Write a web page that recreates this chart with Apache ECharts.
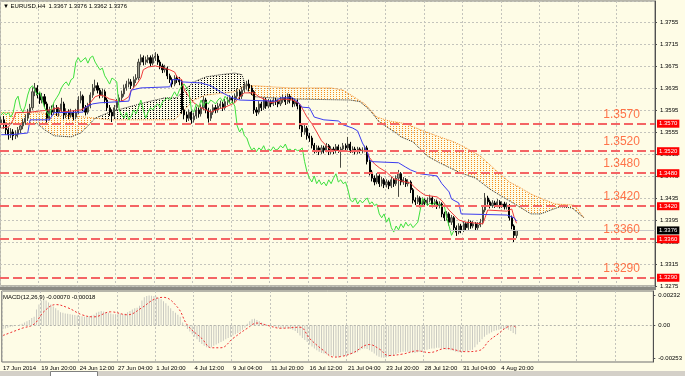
<!DOCTYPE html>
<html><head><meta charset="utf-8">
<script src="https://cdn.jsdelivr.net/npm/echarts@6/dist/echarts.min.js"></script>
<style>html,body{margin:0;padding:0;background:#fefce6}#c{width:685px;height:376px}</style>
</head><body><div id="c"></div>
<script>
// ---------- data ----------
const tickLabels = ['17 Jun 2014','19 Jun 20:00','24 Jun 12:00','27 Jun 04:00','1 Jul 20:00','4 Jul 12:00','9 Jul 04:00','11 Jul 20:00','16 Jul 12:00','21 Jul 04:00','23 Jul 20:00','28 Jul 12:00','31 Jul 04:00','4 Aug 20:00'];
const barsPerLabel = 16;
const slotCount = 272;

const opens = [1.3570,1.3577,1.3568,1.3559,1.3550,1.3555,1.3548,1.3551,1.3559,1.3566,
1.3573,1.3580,1.3591,1.3599,1.3628,1.3635,1.3622,1.3613,1.3619,1.3606,
1.3580,1.3595,1.3591,1.3599,1.3590,1.3595,1.3606,1.3586,1.3591,1.3586,
1.3590,1.3582,1.3591,1.3613,1.3620,1.3599,1.3591,1.3602,1.3622,1.3635,
1.3639,1.3631,1.3622,1.3628,1.3613,1.3599,1.3591,1.3584,1.3599,1.3610,
1.3617,1.3624,1.3635,1.3642,1.3646,1.3639,1.3650,1.3653,1.3682,1.3690,
1.3682,1.3686,1.3690,1.3680,1.3690,1.3693,1.3682,1.3675,1.3668,1.3671,
1.3657,1.3650,1.3642,1.3653,1.3650,1.3646,1.3595,1.3586,1.3580,1.3591,
1.3577,1.3584,1.3595,1.3588,1.3599,1.3613,1.3595,1.3580,1.3591,1.3599,
1.3595,1.3602,1.3606,1.3599,1.3610,1.3613,1.3617,1.3613,1.3620,1.3628,
1.3620,1.3631,1.3639,1.3642,1.3635,1.3628,1.3595,1.3591,1.3606,1.3599,
1.3613,1.3602,1.3610,1.3606,1.3613,1.3610,1.3606,1.3613,1.3617,1.3610,
1.3620,1.3613,1.3606,1.3610,1.3602,1.3566,1.3555,1.3562,1.3548,1.3544,
1.3531,1.3522,1.3526,1.3519,1.3526,1.3522,1.3530,1.3519,1.3524,1.3521,
1.3528,1.3522,1.3524,1.3530,1.3526,1.3533,1.3522,1.3524,1.3519,1.3524,
1.3521,1.3522,1.3526,1.3501,1.3482,1.3471,1.3464,1.3475,1.3461,1.3468,
1.3459,1.3464,1.3457,1.3468,1.3461,1.3471,1.3479,1.3464,1.3468,1.3461,
1.3464,1.3450,1.3431,1.3428,1.3435,1.3424,1.3431,1.3426,1.3431,1.3435,
1.3424,1.3428,1.3421,1.3424,1.3406,1.3399,1.3406,1.3391,1.3399,1.3381,
1.3373,1.3384,1.3377,1.3388,1.3381,1.3391,1.3384,1.3388,1.3381,1.3386,
1.3391,1.3413,1.3435,1.3428,1.3421,1.3426,1.3422,1.3428,1.3421,1.3424,
1.3419,1.3421,1.3399,1.3384,1.3367];
const closes = [1.3577,1.3568,1.3559,1.3550,1.3555,1.3548,1.3551,1.3559,1.3566,1.3573,
1.3580,1.3591,1.3599,1.3628,1.3635,1.3622,1.3613,1.3619,1.3606,1.3580,
1.3595,1.3591,1.3599,1.3590,1.3595,1.3606,1.3586,1.3591,1.3586,1.3590,
1.3582,1.3591,1.3613,1.3620,1.3599,1.3591,1.3602,1.3622,1.3635,1.3639,
1.3631,1.3622,1.3628,1.3613,1.3599,1.3591,1.3584,1.3599,1.3610,1.3617,
1.3624,1.3635,1.3642,1.3646,1.3639,1.3650,1.3653,1.3682,1.3690,1.3682,
1.3686,1.3690,1.3680,1.3690,1.3693,1.3682,1.3675,1.3668,1.3671,1.3657,
1.3650,1.3642,1.3653,1.3650,1.3646,1.3595,1.3586,1.3580,1.3591,1.3577,
1.3584,1.3595,1.3588,1.3599,1.3613,1.3595,1.3580,1.3591,1.3599,1.3595,
1.3602,1.3606,1.3599,1.3610,1.3613,1.3617,1.3613,1.3620,1.3628,1.3620,
1.3631,1.3639,1.3642,1.3635,1.3628,1.3595,1.3591,1.3606,1.3599,1.3613,
1.3602,1.3610,1.3606,1.3613,1.3610,1.3606,1.3613,1.3617,1.3610,1.3620,
1.3613,1.3606,1.3610,1.3602,1.3566,1.3555,1.3562,1.3548,1.3544,1.3531,
1.3522,1.3526,1.3519,1.3526,1.3522,1.3530,1.3519,1.3524,1.3521,1.3528,
1.3522,1.3524,1.3530,1.3526,1.3533,1.3522,1.3524,1.3519,1.3524,1.3521,
1.3522,1.3526,1.3501,1.3482,1.3471,1.3464,1.3475,1.3461,1.3468,1.3459,
1.3464,1.3457,1.3468,1.3461,1.3471,1.3479,1.3464,1.3468,1.3461,1.3464,
1.3450,1.3431,1.3428,1.3435,1.3424,1.3431,1.3426,1.3431,1.3435,1.3424,
1.3428,1.3421,1.3424,1.3406,1.3399,1.3406,1.3391,1.3399,1.3381,1.3373,
1.3384,1.3377,1.3388,1.3381,1.3391,1.3384,1.3388,1.3381,1.3386,1.3391,
1.3413,1.3435,1.3428,1.3421,1.3426,1.3422,1.3428,1.3421,1.3424,1.3419,
1.3421,1.3399,1.3384,1.3367,1.3376];
const highs = [1.3583,1.3584,1.3572,1.3563,1.3562,1.3560,1.3558,1.3564,1.3571,1.3579,
1.3587,1.3597,1.3606,1.3636,1.3644,1.3640,1.3628,1.3626,1.3624,1.3610,
1.3601,1.3603,1.3606,1.3604,1.3600,1.3617,1.3610,1.3598,1.3596,1.3597,
1.3594,1.3597,1.3620,1.3629,1.3623,1.3604,1.3608,1.3627,1.3642,1.3650,
1.3645,1.3635,1.3634,1.3632,1.3617,1.3604,1.3596,1.3604,1.3615,1.3623,
1.3630,1.3641,1.3648,1.3652,1.3651,1.3656,1.3660,1.3688,1.3696,1.3694,
1.3692,1.3695,1.3694,1.3696,1.3700,1.3697,1.3686,1.3679,1.3677,1.3674,
1.3661,1.3654,1.3658,1.3658,1.3655,1.3650,1.3600,1.3592,1.3596,1.3594,
1.3590,1.3601,1.3600,1.3605,1.3620,1.3617,1.3599,1.3596,1.3605,1.3604,
1.3608,1.3612,1.3610,1.3615,1.3619,1.3622,1.3621,1.3625,1.3634,1.3632,
1.3637,1.3645,1.3648,1.3650,1.3640,1.3631,1.3600,1.3611,1.3610,1.3618,
1.3617,1.3615,1.3614,1.3618,1.3617,1.3614,1.3619,1.3623,1.3621,1.3625,
1.3624,1.3617,1.3615,1.3614,1.3605,1.3570,1.3568,1.3566,1.3553,1.3548,
1.3535,1.3531,1.3530,1.3531,1.3530,1.3535,1.3533,1.3529,1.3528,1.3533,
1.3532,1.3528,1.3535,1.3534,1.3546,1.3537,1.3529,1.3528,1.3528,1.3527,
1.3527,1.3530,1.3530,1.3505,1.3486,1.3476,1.3480,1.3478,1.3473,1.3471,
1.3469,1.3467,1.3473,1.3471,1.3476,1.3486,1.3482,1.3473,1.3471,1.3469,
1.3467,1.3453,1.3436,1.3440,1.3438,1.3436,1.3434,1.3436,1.3441,1.3438,
1.3433,1.3432,1.3429,1.3427,1.3410,1.3411,1.3409,1.3404,1.3402,1.3385,
1.3389,1.3388,1.3393,1.3391,1.3396,1.3394,1.3393,1.3391,1.3391,1.3397,
1.3419,1.3444,1.3439,1.3432,1.3431,1.3430,1.3433,1.3431,1.3429,1.3428,
1.3427,1.3424,1.3403,1.3387,1.3376];
const lows = [1.3562,1.3561,1.3550,1.3541,1.3544,1.3540,1.3542,1.3545,1.3553,1.3560,
1.3568,1.3575,1.3586,1.3595,1.3620,1.3616,1.3606,1.3607,1.3600,1.3572,
1.3576,1.3585,1.3586,1.3584,1.3583,1.3590,1.3578,1.3580,1.3578,1.3581,
1.3576,1.3578,1.3587,1.3607,1.3593,1.3585,1.3587,1.3598,1.3617,1.3629,
1.3625,1.3616,1.3617,1.3607,1.3593,1.3584,1.3573,1.3580,1.3594,1.3604,
1.3611,1.3619,1.3630,1.3636,1.3633,1.3635,1.3644,1.3649,1.3676,1.3676,
1.3677,1.3680,1.3674,1.3676,1.3684,1.3677,1.3669,1.3662,1.3663,1.3651,
1.3644,1.3636,1.3638,1.3644,1.3640,1.3588,1.3578,1.3573,1.3575,1.3570,
1.3572,1.3579,1.3581,1.3583,1.3594,1.3589,1.3572,1.3575,1.3586,1.3589,
1.3590,1.3597,1.3593,1.3595,1.3604,1.3608,1.3607,1.3608,1.3615,1.3614,
1.3615,1.3626,1.3633,1.3629,1.3622,1.3588,1.3584,1.3587,1.3593,1.3595,
1.3597,1.3598,1.3600,1.3602,1.3604,1.3600,1.3602,1.3608,1.3604,1.3606,
1.3607,1.3600,1.3601,1.3596,1.3560,1.3546,1.3550,1.3541,1.3537,1.3525,
1.3516,1.3517,1.3513,1.3515,1.3516,1.3518,1.3513,1.3514,1.3515,1.3516,
1.3517,1.3490,1.3519,1.3520,1.3522,1.3517,1.3517,1.3514,1.3515,1.3516,
1.3516,1.3518,1.3496,1.3476,1.3465,1.3458,1.3460,1.3455,1.3456,1.3453,
1.3454,1.3451,1.3453,1.3455,1.3457,1.3437,1.3458,1.3459,1.3455,1.3456,
1.3444,1.3425,1.3422,1.3424,1.3418,1.3420,1.3420,1.3421,1.3427,1.3418,
1.3419,1.3415,1.3416,1.3400,1.3393,1.3394,1.3385,1.3386,1.3375,1.3366,
1.3369,1.3371,1.3373,1.3376,1.3377,1.3379,1.3380,1.3376,1.3377,1.3382,
1.3387,1.3409,1.3423,1.3416,1.3417,1.3417,1.3418,1.3416,1.3417,1.3414,
1.3414,1.3394,1.3378,1.3355,1.3362];

// Ichimoku lines, [bar index, price] vertices
const tenkan = [[0,1.3562],[3,1.3564],[5,1.3577],[6,1.3590],[12,1.3591],[20,1.3595],[24,1.3599],[25,1.3591],[29,1.3593],[33,1.3595],[35,1.3599],[37,1.3608],[39,1.3619],[41,1.3622],[43,1.3620],[45,1.3615],[47,1.3613],[49,1.3610],[51,1.3613],[53,1.3619],[54,1.3631],[56,1.3640],[58,1.3653],[59,1.3668],[61,1.3673],[64,1.3675],[66,1.3673],[70,1.3668],[72,1.3664],[73,1.3655],[75,1.3650],[76,1.3631],[78,1.3619],[80,1.3608],[83,1.3599],[87,1.3591],[89,1.3595],[93,1.3600],[97,1.3608],[99,1.3619],[101,1.3626],[105,1.3626],[107,1.3619],[110,1.3613],[112,1.3608],[114,1.3610],[117,1.3615],[121,1.3613],[124,1.3606],[126,1.3590],[127,1.3582],[129,1.3570],[131,1.3555],[133,1.3539],[135,1.3530],[137,1.3522],[141,1.3521],[146,1.3519],[149,1.3522],[152,1.3519],[153,1.3508],[155,1.3497],[157,1.3490],[160,1.3482],[163,1.3470],[166,1.3466],[170,1.3462],[172,1.3453],[174,1.3446],[176,1.3440],[181,1.3437],[183,1.3430],[186,1.3413],[188,1.3404],[190,1.3395],[193,1.3391],[200,1.3388],[201,1.3400],[202,1.3413],[210,1.3411],[212,1.3415],[213,1.3400],[214,1.3389]];
const kijun = [[0,1.3550],[4,1.3550],[11,1.3553],[12,1.3577],[20,1.3577],[22,1.3590],[34,1.3591],[35,1.3600],[38,1.3606],[41,1.3608],[53,1.3611],[54,1.3631],[58,1.3635],[70,1.3637],[71,1.3650],[74,1.3650],[75,1.3646],[83,1.3644],[87,1.3639],[91,1.3628],[96,1.3617],[99,1.3613],[114,1.3611],[116,1.3617],[121,1.3617],[123,1.3610],[125,1.3600],[128,1.3599],[130,1.3582],[134,1.3577],[140,1.3575],[142,1.3568],[146,1.3562],[148,1.3557],[150,1.3535],[152,1.3519],[153,1.3504],[154,1.3501],[165,1.3499],[168,1.3491],[170,1.3486],[174,1.3479],[181,1.3475],[183,1.3461],[186,1.3446],[187,1.3433],[190,1.3426],[191,1.3406],[210,1.3404],[213,1.3399],[214,1.3393]];
const senkouA = [[0,1.3590],[16,1.3590],[24,1.3586],[35,1.3582],[45,1.3577],[72,1.3577],[76,1.3595],[80,1.3613],[85,1.3622],[97,1.3628],[101,1.3639],[105,1.3639],[120,1.3635],[137,1.3635],[142,1.3631],[146,1.3620],[151,1.3606],[156,1.3582],[161,1.3575],[168,1.3570],[174,1.3559],[182,1.3546],[188,1.3537],[193,1.3526],[199,1.3511],[203,1.3495],[207,1.3479],[211,1.3464],[215,1.3455],[220,1.3442],[226,1.3431],[230,1.3424],[238,1.3422],[242,1.3399]];
const senkouB = [[0,1.3570],[15,1.3570],[18,1.3559],[22,1.3548],[29,1.3546],[33,1.3553],[36,1.3566],[39,1.3580],[45,1.3591],[56,1.3604],[62,1.3611],[68,1.3617],[73,1.3617],[76,1.3631],[80,1.3646],[85,1.3655],[91,1.3659],[97,1.3662],[100,1.3659],[102,1.3631],[105,1.3619],[120,1.3615],[145,1.3613],[149,1.3610],[153,1.3595],[157,1.3573],[164,1.3553],[166,1.3546],[171,1.3537],[177,1.3511],[182,1.3499],[190,1.3482],[197,1.3471],[203,1.3451],[209,1.3435],[214,1.3422],[220,1.3406],[224,1.3406],[227,1.3411],[232,1.3419],[237,1.3417],[242,1.3399]];
const chikouShift = 26;

const levels = [1.3570, 1.3520, 1.3480, 1.3420, 1.3360, 1.3290];
const lastPrice = 1.3376;
const priceMin = 1.3275, priceMax = 1.3793, priceStep = 0.004;

const macdMain = [-0.00030,-0.00025,-0.00020,-0.00015,-0.00010,-0.00005,0.00000,0.00005,0.00010,0.00020,
0.00030,0.00040,0.00055,0.00064,
0.00120,0.00160,0.00190,0.00199,0.00190,0.00175,
0.00159,0.00145,0.00130,0.00115,
0.00100,0.00095,0.00090,0.00088,0.00085,0.00080,0.00078,0.00075,
0.00070,0.00068,0.00064,0.00066,0.00070,0.00075,0.00080,
0.00095,0.00103,0.00110,0.00105,0.00100,0.00095,0.00090,0.00085,
0.00085,0.00090,0.00088,0.00085,0.00090,0.00100,
0.00110,0.00120,0.00130,0.00135,0.00150,
0.00190,0.00215,0.00225,0.00230,0.00228,0.00225,0.00220,
0.00210,0.00200,0.00185,0.00170,
0.00150,0.00130,0.00110,0.00095,0.00080,0.00065,
0.00020,-0.00010,-0.00030,
-0.00050,-0.00070,-0.00090,-0.00110,-0.00130,-0.00145,-0.00160,-0.00170,-0.00175,-0.00170,
-0.00160,-0.00150,-0.00140,-0.00130,-0.00120,-0.00110,-0.00100,
-0.00090,-0.00080,-0.00070,-0.00060,-0.00050,-0.00035,-0.00020,
0.00010,0.00030,0.00045,0.00050,0.00040,0.00030,
0.00020,0.00010,0.00005,0.00000,-0.00005,-0.00010,-0.00015,-0.00020,
-0.00025,-0.00025,-0.00020,-0.00025,-0.00030,-0.00035,-0.00045,
-0.00060,-0.00080,-0.00100,-0.00115,-0.00130,
-0.00150,-0.00165,-0.00180,-0.00195,-0.00205,
-0.00215,-0.00220,-0.00225,-0.00230,-0.00235,-0.00240,-0.00245,-0.00250,
-0.00245,-0.00240,-0.00235,-0.00230,-0.00225,-0.00220,-0.00215,-0.00210,
-0.00195,-0.00185,-0.00180,-0.00185,-0.00195,-0.00205,
-0.00220,-0.00235,-0.00245,-0.00250,-0.00252,-0.00250,-0.00245,
-0.00240,-0.00235,-0.00225,-0.00215,-0.00210,-0.00205,-0.00205,
-0.00205,-0.00210,-0.00215,-0.00215,-0.00210,-0.00205,-0.00200,-0.00195,-0.00190,
-0.00185,-0.00180,-0.00180,-0.00175,-0.00175,-0.00180,-0.00185,-0.00190,-0.00190,-0.00195,
-0.00200,-0.00205,-0.00210,-0.00210,-0.00205,-0.00200,-0.00200,-0.00195,-0.00190,
-0.00170,-0.00150,-0.00130,-0.00110,-0.00090,
-0.00075,-0.00065,-0.00055,-0.00045,-0.00040,-0.00035,
-0.00030,-0.00030,-0.00030,-0.00035,
-0.00045,-0.00060,-0.00070];
const macdSignal = [[0,-0.00080],[8,-0.00024],[13,0.00008],[17,0.00103],[22,0.00159],[27,0.00135],[33,0.00080],[38,0.00064],[45,0.00103],[52,0.00080],[58,0.00135],[63,0.00199],[67,0.00215],[73,0.00135],[77,0.00000],[83,-0.00103],[87,-0.00175],[91,-0.00175],[96,-0.00103],[102,-0.00024],[106,0.00016],[110,0.00000],[116,-0.00024],[124,-0.00016],[128,-0.00103],[134,-0.00199],[138,-0.00247],[141,-0.00243],[146,-0.00215],[153,-0.00150],[157,-0.00183],[161,-0.00235],[167,-0.00223],[173,-0.00199],[178,-0.00212],[185,-0.00180],[193,-0.00205],[199,-0.00195],[203,-0.00119],[207,-0.00064],[210,-0.00020],[213,-0.00002],[214,-0.00018]];
const macdMin = -0.00285, macdMax = 0.00264;
const macdTicks = [0.00232, 0, -0.00253];
const headerText = '\u25BC EURUSD,H4  1.3367 1.3376 1.3362 1.3376';
const macdTitle = 'MACD(12,26,9) -0.00070 -0.00018';

// ---------- helpers ----------
const BG = '#fefce6';
const FONT = 'Liberation Sans';
function dots(color, w, h) {
  const c = document.createElement('canvas'); c.width = w; c.height = h;
  const g = c.getContext('2d'); g.fillStyle = color; g.fillRect(0, 0, 1, 1); return c;
}
const orangeDots = dots('#f5901e', 3, 2);
const blackDots = dots('#000000', 3, 2);
function lerp(pts, x) {
  if (x <= pts[0][0]) return pts[0][1];
  for (let k = 1; k < pts.length; k++) {
    if (x <= pts[k][0]) { const a = pts[k-1], b = pts[k]; return a[1] + (b[1]-a[1]) * (x-a[0]) / (b[0]-a[0]); }
  }
  return pts[pts.length-1][1];
}
const categories = Array.from({length: slotCount}, (_, i) => String(i));
const candleData = closes.map((c, i) => [opens[i], c, lows[i], highs[i]]);
const chikou = closes.slice(chikouShift).map((c, i) => [i, c]);
const showEvery = (idx) => idx % barsPerLabel === 0;

const chart = echarts.init(document.getElementById('c'), null, {renderer: 'canvas'});
const gridLine = {show: true, interval: (i) => showEvery(i), lineStyle: {color: '#c4c4bc', type: [2, 2], width: 1}};

chart.setOption({
  animation: false,
  backgroundColor: BG,
  textStyle: {fontFamily: FONT},
  grid: [
    {left: 0, width: 655, top: 1, height: 285, show: true, backgroundColor: BG, borderColor: '#6e6e6e', borderWidth: 1},
    {left: 0, width: 655, top: 291, height: 71, show: true, backgroundColor: BG, borderColor: '#6e6e6e', borderWidth: 1}
  ],
  xAxis: [
    {type: 'category', gridIndex: 0, data: categories, boundaryGap: true,
     axisLine: {show: false}, axisTick: {show: false}, axisLabel: {show: false}, splitLine: gridLine},
    {type: 'category', gridIndex: 1, data: categories, boundaryGap: true,
     axisLine: {show: false}, axisTick: {show: false}, splitLine: gridLine,
     axisLabel: {show: true, interval: (i) => showEvery(i) && i / barsPerLabel < tickLabels.length,
       formatter: (v, i) => tickLabels[Math.round(Number(v) / barsPerLabel)] || '',
       align: 'left', fontSize: 6, color: '#000', margin: 3, fontFamily: FONT}}
  ],
  yAxis: [
    {type: 'value', gridIndex: 0, position: 'right', min: priceMin, max: priceMax, interval: priceStep, scale: true,
     axisLine: {show: true, lineStyle: {color: '#505050'}}, axisTick: {show: true, length: 2, lineStyle: {color: '#505050'}},
     axisLabel: {fontSize: 6, color: '#000', margin: 5, showMaxLabel: false, formatter: (v) => v.toFixed(4), fontFamily: FONT},
     splitLine: {show: true, lineStyle: {color: '#c4c4bc', type: [2, 2]}}},
    {type: 'value', gridIndex: 1, position: 'right', min: macdMin, max: macdMax,
     axisLine: {show: true, lineStyle: {color: '#505050'}},
     axisTick: {show: true, length: 2, customValues: macdTicks, lineStyle: {color: '#505050'}},
     axisLabel: {fontSize: 6, color: '#000', margin: 5, customValues: macdTicks, fontFamily: FONT,
       formatter: (v) => Math.abs(v) < 1e-9 ? '0.00' : v.toFixed(5)},
     splitLine: {show: false}}
  ],
  series: [
    {type: 'custom', name: 'kumo', xAxisIndex: 0, yAxisIndex: 0, z: 1, silent: true, clip: true,
     data: [[0, senkouA[0][1]]],
     renderItem: function (params, api) {
       const p0 = api.coord([0, priceMin]), p1 = api.coord([1, priceMin]);
       const bw = p1[0] - p0[0];
       const X = (x) => p0[0] + bw * x;
       const Y = (v) => api.coord([0, v])[1];
       const end = senkouA[senkouA.length - 1][0];
       const s = [];
       for (let x = 0; x <= end + 1e-9; x += 0.25) s.push([x, lerp(senkouA, x), lerp(senkouB, x)]);
       const runs = []; let cur = null;
       for (let k = 0; k < s.length; k++) {
         const [x, a, b] = s[k]; const up = a >= b;
         if (!cur) { cur = {up, pts: [[x, a, b]]}; continue; }
         if (up !== cur.up) {
           const [x0, a0, b0] = s[k-1]; const d0 = a0 - b0, d1 = a - b;
           const t = d0 / (d0 - d1); const xc = x0 + t * (x - x0), yc = a0 + t * (a - a0);
           cur.pts.push([xc, yc, yc]); runs.push(cur);
           cur = {up, pts: [[xc, yc, yc], [x, a, b]]};
         } else cur.pts.push([x, a, b]);
       }
       if (cur) runs.push(cur);
       return {type: 'group', children: runs.map(r => ({
         type: 'polygon', silent: true,
         shape: {points: r.pts.map(p => [X(p[0]), Y(p[1])]).concat(r.pts.slice().reverse().map(p => [X(p[0]), Y(p[2])]))},
         style: {fill: {image: r.up ? orangeDots : blackDots, repeat: 'repeat'}, stroke: null}
       }))};
     }},
    {type: 'line', name: 'Senkou A', xAxisIndex: 0, yAxisIndex: 0, data: senkouA, showSymbol: false, z: 2,
     lineStyle: {color: '#f08a2a', width: 1, type: [1, 1]}},
    {type: 'line', name: 'Senkou B', xAxisIndex: 0, yAxisIndex: 0, data: senkouB, showSymbol: false, z: 2,
     lineStyle: {color: '#222', width: 1, type: [1, 1]}},
    {type: 'candlestick', name: 'EURUSD', xAxisIndex: 0, yAxisIndex: 0, data: candleData, barWidth: 1.6, z: 3,
     itemStyle: {color: '#9c9c8c', color0: '#000000', borderColor: '#4a4a42', borderColor0: '#000000', borderWidth: 1},
     markLine: {silent: true, symbol: 'none', animation: false, precision: 4,
       data: levels.map(v => ({yAxis: v, lineStyle: {color: '#f46464', width: 2, type: [9, 4]},
         label: {show: true, position: 'end', distance: 2, formatter: v.toFixed(4), backgroundColor: '#ff0000', color: '#fff', fontSize: 6, padding: [1, 2, 1, 2], fontFamily: FONT}}))
         .concat([{yAxis: lastPrice, lineStyle: {color: '#c8c8c8', width: 1, type: 'solid'},
           label: {show: true, position: 'end', distance: 2, formatter: lastPrice.toFixed(4), backgroundColor: '#000', color: '#fff', fontSize: 6, padding: [1, 2, 1, 2], fontFamily: FONT}}])}},
    {type: 'line', name: 'Tenkan', xAxisIndex: 0, yAxisIndex: 0, data: tenkan, showSymbol: false, z: 4,
     lineStyle: {color: '#f03c3c', width: 1}},
    {type: 'line', name: 'Kijun', xAxisIndex: 0, yAxisIndex: 0, data: kijun, showSymbol: false, z: 4,
     lineStyle: {color: '#3c3cf0', width: 1}},
    {type: 'line', name: 'Chikou', xAxisIndex: 0, yAxisIndex: 0, data: chikou, showSymbol: false, z: 4,
     lineStyle: {color: '#3ee03e', width: 1}},
    {type: 'scatter', name: 'levelText', xAxisIndex: 0, yAxisIndex: 0, z: 5, silent: true,
     data: levels.map(v => [250, v]), symbolSize: 1, itemStyle: {color: 'rgba(0,0,0,0)'},
     label: {show: true, position: 'top', align: 'left', verticalAlign: 'bottom', distance: 3,
       formatter: (p) => p.value[1].toFixed(4), color: '#ff5020', fontSize: 12, fontFamily: FONT}},
    {type: 'bar', name: 'MACD', xAxisIndex: 1, yAxisIndex: 1, data: macdMain, barWidth: 1,
     itemStyle: {color: '#c8c8c0'},
     markLine: {silent: true, symbol: 'none', label: {show: false},
       data: [{yAxis: 0}], lineStyle: {color: '#b4b4ac', type: [2, 2], width: 1}}},
    {type: 'line', name: 'Signal', xAxisIndex: 1, yAxisIndex: 1, data: macdSignal, showSymbol: false, smooth: 0.4, z: 4,
     lineStyle: {color: '#f03030', width: 1, type: [2, 2]}}
  ],
  graphic: [
    {type: 'text', left: 3, top: 3, z: 100, style: {text: headerText, fontSize: 6, fill: '#000', fontFamily: FONT}},
    {type: 'text', left: 3, top: 294, z: 100, style: {text: macdTitle, fontSize: 6, fill: '#000', fontFamily: FONT}},
    {type: 'rect', left: 0, top: 287, z: 100, shape: {width: 656, height: 3}, style: {fill: '#8a8a84'}},
    {type: 'rect', left: 0, top: 371, z: 100, shape: {width: 685, height: 5}, style: {fill: '#d4d0c8'}},
    {type: 'rect', left: 50, top: 371, z: 101, shape: {width: 47, height: 5}, style: {fill: '#ffffff', stroke: '#808080', lineWidth: 1}}
  ]
});
</script></body></html>
